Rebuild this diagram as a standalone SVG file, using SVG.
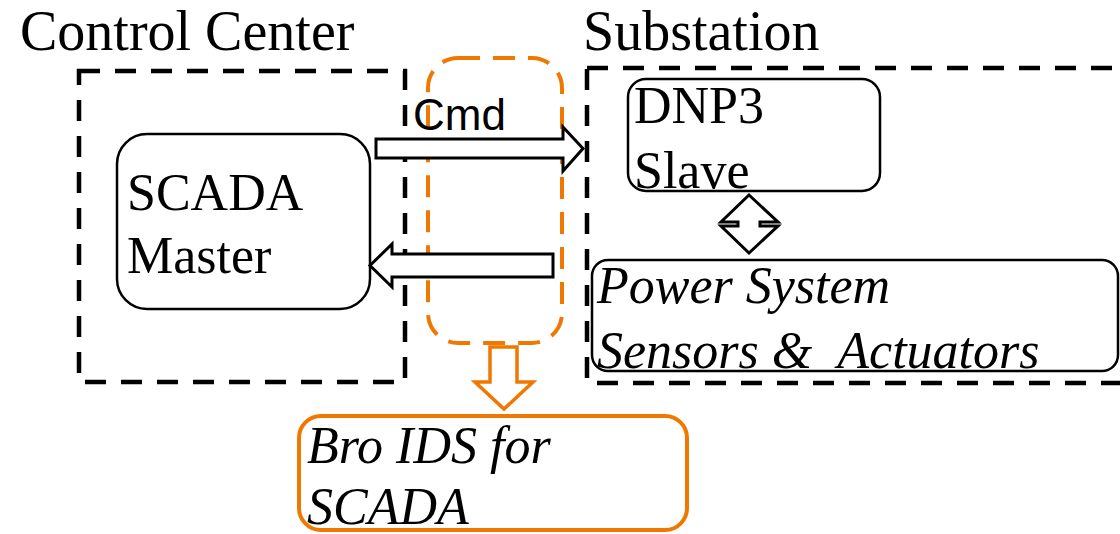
<svg xmlns="http://www.w3.org/2000/svg" width="1120" height="534" viewBox="0 0 1120 534">
<style>
.serif{font-family:"Liberation Serif","Times New Roman",serif;fill:#000}
.ital{font-style:italic}
.sans{font-family:"Liberation Sans",Arial,sans-serif;fill:#000}
.zone{fill:none;stroke:#000;stroke-width:4.5;stroke-dasharray:21 15}
.node{fill:#fff;stroke:#000;stroke-width:2.5}
.ids{fill:none;stroke:#F07800;stroke-width:4;stroke-dasharray:22 13}
.arrow{fill:#fff;stroke:#000;stroke-width:3;stroke-linejoin:miter}
.oarrow{fill:#fff;stroke:#F07800;stroke-width:3.5;stroke-linejoin:miter}
</style>
<rect width="1120" height="534" fill="#fff"/>
<g id="control-center">
  <rect class="zone" x="79" y="71" width="326" height="311"/>
  <text class="serif" x="20" y="50" font-size="56">Control Center</text>
</g>
<g id="substation">
  <rect class="zone" x="587" y="68" width="560" height="315"/>
  <text class="serif" x="583" y="50" font-size="56">Substation</text>
</g>
<g id="scada-master">
  <rect class="node" x="117" y="134" width="253" height="175" rx="30"/>
  <text class="serif" x="127" y="210" font-size="52">SCADA</text>
  <text class="serif" x="127" y="273" font-size="52">Master</text>
</g>
<g id="dnp3-slave">
  <rect class="node" x="628" y="79" width="252" height="112" rx="18"/>
  <text class="serif" x="634" y="123" font-size="52">DNP3</text>
  <text class="serif" x="634" y="188" font-size="52">Slave</text>
</g>
<g id="power-system">
  <rect class="node" x="592" y="260" width="526" height="111" rx="16"/>
  <text class="serif ital" x="597" y="303" font-size="52">Power System</text>
  <text class="serif ital" x="597" y="368" font-size="52" xml:space="preserve">Sensors &amp;  Actuators</text>
</g>
<g id="ids-tap">
  <rect class="ids" x="428" y="58" width="134" height="285" rx="30"/>
</g>
<g id="bro-ids">
  <rect x="299" y="416" width="388" height="114" rx="22" fill="none" stroke="#F07800" stroke-width="4"/>
  <text class="serif ital" x="307" y="463" font-size="52">Bro IDS for</text>
  <text class="serif ital" x="307" y="524" font-size="52">SCADA</text>
</g>
<g id="connectors">
  <path class="arrow" d="M376,139 L563,139 L563,127 L583,148.5 L563,171 L563,158 L376,158 Z"/>
  <text class="sans" x="413" y="130" font-size="44">Cmd</text>
  <path class="arrow" d="M553,254 L392,254 L392,244 L370,265.5 L392,287 L392,277 L553,277 Z"/>
  <path class="arrow" d="M749,195 L778,222 L760,222 L760,226 L778,226 L749,253 L721,226 L738,226 L738,222 L721,222 Z"/>
  <path class="oarrow" d="M490,347 L517,347 L517,382 L533,382 L504,409 L475,382 L490,382 Z"/>
</g>
</svg>
